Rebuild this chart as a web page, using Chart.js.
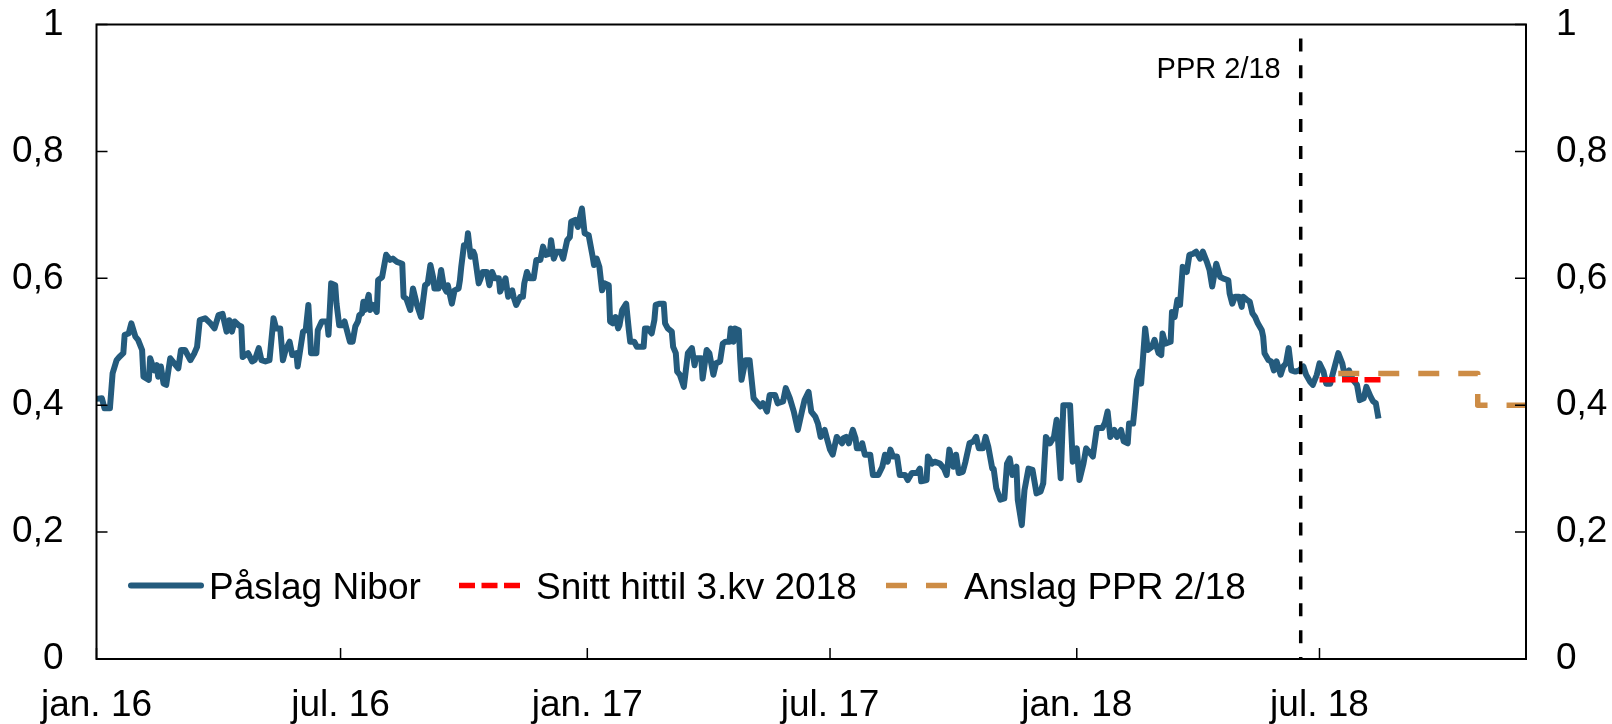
<!DOCTYPE html>
<html>
<head>
<meta charset="utf-8">
<script src="https://cdn.jsdelivr.net/npm/chart.js@4.4.0/dist/chart.umd.min.js"></script>
<style>
  html, body { margin: 0; padding: 0; background: #fff; }
</style>
</head>
<body>
<canvas id="chart" width="1612" height="724"></canvas>
<script>
// x values are days counted from 1 Jan 2016
var xTickDays = [0, 182, 366, 547, 731, 912];
var xTickLabels = ['jan. 16', 'jul. 16', 'jan. 17', 'jul. 17', 'jan. 18', 'jul. 18'];
var yTicks = [0, 0.2, 0.4, 0.6, 0.8, 1];
var yTickLabels = ['0', '0,2', '0,4', '0,6', '0,8', '1'];
var xMin = 0, xMax = 1066;

var seriesNames = ['Påslag Nibor', 'Snitt hittil 3.kv 2018', 'Anslag PPR 2/18'];

var niborDays = [
  0, 4, 6, 10, 12, 15, 17, 20, 21, 24, 26, 29, 31, 34, 35, 39, 40, 43, 45, 46, 48, 50, 52, 55, 58, 61, 63, 66, 70, 73,
  75, 77, 81, 85, 88, 91, 94, 97, 99, 101, 103, 106, 108, 109, 113, 116, 118, 121, 123, 126, 129, 132, 134, 137, 139, 141, 144, 146, 149, 150,
  154, 156, 158, 160, 164, 165, 168, 172, 173, 175, 178, 179, 181, 183, 185, 188, 189, 191, 193, 195, 196, 198, 199, 200, 203, 204, 206, 209, 210, 213,
  216, 219, 221, 224, 228, 229, 231, 234, 236, 239, 242, 245, 247, 249, 251, 252, 255, 257, 259, 261, 262, 265, 267, 270, 271, 272, 274, 276, 277, 279,
  281, 282, 285, 286, 288, 291, 293, 295, 297, 300, 301, 303, 305, 307, 310, 311, 313, 316, 318, 319, 321, 323, 326, 328, 331, 333, 335, 338, 339, 341,
  343, 346, 348, 351, 353, 354, 357, 359, 360, 362, 364, 367, 370, 371, 373, 375, 377, 379, 382, 383, 385, 387, 389, 390, 392, 395, 397, 398, 401, 403,
  408, 409, 411, 414, 416, 417, 420, 423, 424, 426, 429, 430, 432, 433, 435, 438, 441, 444, 446, 447, 451, 452, 455, 457, 460, 462, 465, 467, 469, 472,
  473, 475, 476, 479, 480, 481, 484, 487, 490, 492, 495, 497, 500, 502, 506, 508, 512, 514, 517, 520, 523, 526, 528, 531, 533, 536, 538, 540, 543, 545,
  547, 549, 552, 556, 557, 559, 561, 564, 566, 567, 570, 571, 573, 577, 579, 583, 586, 588, 590, 592, 594, 597, 599, 603, 605, 608, 612, 614, 615, 619,
  620, 623, 625, 629, 632, 634, 636, 639, 641, 643, 646, 648, 651, 654, 656, 658, 661, 663, 665, 668, 669, 671, 674, 677, 679, 681, 683, 686, 687, 690,
  692, 695, 698, 701, 704, 706, 708, 711, 714, 716, 719, 721, 726, 728, 731, 733, 736, 738, 742, 743, 746, 750, 752, 754, 756, 759, 761, 764, 766, 769,
  770, 773, 774, 776, 778, 779, 782, 784, 787, 789, 792, 794, 795, 797, 801, 802, 804, 806, 808, 810, 813, 815, 818, 820, 823, 825, 828, 830, 832, 835,
  838, 840, 844, 845, 847, 849, 852, 854, 855, 858, 860, 862, 864, 866, 869, 870, 871, 874, 876, 878, 880, 883, 885, 887, 889, 891, 894, 897, 900, 902,
  905, 907, 910, 912, 915, 917, 920, 924, 926, 929, 931, 934, 937, 940, 942, 945, 947, 950, 952, 954, 956
];
var niborValues = [
  0.41, 0.411, 0.395, 0.395, 0.45, 0.471, 0.476, 0.482, 0.511, 0.513, 0.529, 0.508, 0.503, 0.487, 0.445, 0.44, 0.474, 0.455, 0.463, 0.445, 0.461, 0.434, 0.432, 0.474, 0.466, 0.458, 0.487, 0.487, 0.471, 0.482,
  0.492, 0.534, 0.537, 0.529, 0.521, 0.542, 0.544, 0.516, 0.534, 0.516, 0.532, 0.526, 0.524, 0.476, 0.482, 0.469, 0.471, 0.49, 0.471, 0.469, 0.471, 0.537, 0.521, 0.521, 0.471, 0.487, 0.5, 0.479, 0.482, 0.461,
  0.516, 0.518, 0.558, 0.482, 0.482, 0.518, 0.532, 0.532, 0.511, 0.592, 0.589, 0.56, 0.526, 0.526, 0.532, 0.508, 0.5, 0.5, 0.524, 0.532, 0.542, 0.545, 0.563, 0.55, 0.574, 0.55, 0.558, 0.547, 0.597, 0.602,
  0.637, 0.629, 0.631, 0.626, 0.623, 0.571, 0.568, 0.55, 0.584, 0.558, 0.539, 0.589, 0.592, 0.621, 0.602, 0.584, 0.584, 0.613, 0.587, 0.579, 0.589, 0.56, 0.581, 0.584, 0.597, 0.618, 0.652, 0.652, 0.671, 0.634,
  0.642, 0.637, 0.592, 0.597, 0.61, 0.61, 0.589, 0.61, 0.6, 0.6, 0.579, 0.589, 0.6, 0.571, 0.581, 0.571, 0.558, 0.571, 0.571, 0.592, 0.61, 0.6, 0.6, 0.629, 0.629, 0.65, 0.637, 0.639, 0.66, 0.631,
  0.642, 0.642, 0.631, 0.66, 0.665, 0.689, 0.692, 0.681, 0.692, 0.71, 0.671, 0.668, 0.634, 0.621, 0.631, 0.618, 0.581, 0.592, 0.589, 0.532, 0.529, 0.539, 0.521, 0.526, 0.55, 0.56, 0.518, 0.5, 0.5, 0.492,
  0.492, 0.521, 0.521, 0.513, 0.534, 0.558, 0.56, 0.56, 0.529, 0.521, 0.516, 0.492, 0.482, 0.453, 0.448, 0.429, 0.482, 0.49, 0.463, 0.474, 0.474, 0.442, 0.487, 0.482, 0.448, 0.466, 0.469, 0.497, 0.5, 0.5,
  0.521, 0.5, 0.521, 0.518, 0.474, 0.44, 0.471, 0.471, 0.411, 0.406, 0.398, 0.403, 0.39, 0.416, 0.416, 0.403, 0.406, 0.427, 0.411, 0.39, 0.361, 0.39, 0.408, 0.421, 0.39, 0.382, 0.371, 0.35, 0.361, 0.345,
  0.33, 0.322, 0.35, 0.34, 0.348, 0.35, 0.34, 0.361, 0.348, 0.332, 0.332, 0.34, 0.322, 0.322, 0.29, 0.29, 0.303, 0.322, 0.311, 0.33, 0.319, 0.319, 0.29, 0.29, 0.282, 0.293, 0.293, 0.3, 0.28, 0.282,
  0.319, 0.308, 0.311, 0.308, 0.3, 0.29, 0.33, 0.303, 0.322, 0.293, 0.295, 0.311, 0.34, 0.343, 0.35, 0.332, 0.332, 0.35, 0.335, 0.3, 0.3, 0.269, 0.251, 0.253, 0.308, 0.316, 0.29, 0.303, 0.251, 0.211,
  0.266, 0.3, 0.298, 0.261, 0.264, 0.277, 0.35, 0.34, 0.35, 0.377, 0.285, 0.4, 0.4, 0.311, 0.332, 0.282, 0.308, 0.332, 0.322, 0.319, 0.364, 0.364, 0.372, 0.39, 0.35, 0.361, 0.35, 0.361, 0.343, 0.34,
  0.371, 0.371, 0.392, 0.44, 0.453, 0.434, 0.521, 0.487, 0.492, 0.503, 0.482, 0.479, 0.513, 0.497, 0.5, 0.547, 0.539, 0.566, 0.558, 0.618, 0.61, 0.637, 0.639, 0.642, 0.631, 0.642, 0.626, 0.613, 0.587, 0.623,
  0.602, 0.6, 0.597, 0.576, 0.56, 0.571, 0.571, 0.555, 0.571, 0.566, 0.563, 0.545, 0.539, 0.529, 0.518, 0.508, 0.482, 0.471, 0.469, 0.455, 0.469, 0.448, 0.461, 0.466, 0.49, 0.455, 0.453, 0.455, 0.461, 0.448,
  0.437, 0.432, 0.448, 0.466, 0.453, 0.434, 0.434, 0.466, 0.482, 0.466, 0.445, 0.455, 0.44, 0.432, 0.408, 0.411, 0.429, 0.414, 0.406, 0.403, 0.379
];

var snittDays = [912, 958];
var snittValues = [0.44, 0.44];

var anslagDays = [926, 1030, 1030, 1066];
var anslagValues = [0.45, 0.45, 0.40, 0.40];

var pprDay = 898;
var pprLabel = 'PPR 2/18';

function toPoints(days, values) {
  return days.map(function (d, i) { return { x: d, y: values[i] }; });
}

var FONT = '"Liberation Sans", Arial, sans-serif';

var legendItems = [
  { x: 131, w: 70, tx: 209 },
  { x: 459, w: 62, tx: 536 },
  { x: 886, w: 64, tx: 964 }
];

var decorations = {
  id: 'decorations',
  afterDatasetsDraw: function (chart) {
    var ctx = chart.ctx, a = chart.chartArea;
    var xs = chart.scales.x, ys = chart.scales.y;
    ctx.save();
    ctx.strokeStyle = '#000';
    ctx.lineWidth = 2;
    ctx.strokeRect(a.left, a.top, a.right - a.left, a.bottom - a.top);
    ctx.lineWidth = 1.5;
    ctx.beginPath();
    yTicks.forEach(function (v) {
      var py = ys.getPixelForValue(v);
      ctx.moveTo(a.left, py); ctx.lineTo(a.left + 11, py);
      ctx.moveTo(a.right, py); ctx.lineTo(a.right - 11, py);
    });
    xTickDays.forEach(function (d) {
      var px = xs.getPixelForValue(d);
      ctx.moveTo(px, a.bottom); ctx.lineTo(px, a.bottom - 11);
    });
    ctx.stroke();

    ctx.fillStyle = '#000';
    ctx.font = '29px ' + FONT;
    ctx.textAlign = 'right';
    ctx.textBaseline = 'middle';
    ctx.fillText(pprLabel, xs.getPixelForValue(pprDay) - 20, ys.getPixelForValue(0.928));

    // legend inside the plot
    var ly = 585.5;
    var sets = [chart.data.datasets[3], chart.data.datasets[2], chart.data.datasets[1]];
    ctx.font = '37px ' + FONT;
    ctx.textAlign = 'left';
    ctx.textBaseline = 'alphabetic';
    legendItems.forEach(function (it, i) {
      var ds = sets[i];
      ctx.save();
      ctx.strokeStyle = ds.borderColor;
      ctx.lineWidth = ds.borderWidth;
      ctx.lineCap = i === 0 ? 'round' : 'butt';
      ctx.setLineDash(ds.borderDash || []);
      ctx.beginPath();
      ctx.moveTo(it.x, ly);
      ctx.lineTo(it.x + it.w, ly);
      ctx.stroke();
      ctx.restore();
      ctx.fillText(seriesNames[i], it.tx, 599);
    });
    ctx.restore();
  }
};

function noPad(s) {
  s.paddingTop = 0; s.paddingBottom = 0; s.paddingLeft = 0; s.paddingRight = 0;
}

function yAxis(pos, width, pad) {
  return {
    type: 'linear',
    position: pos,
    min: 0,
    max: 1,
    afterBuildTicks: function (s) { s.ticks = yTicks.map(function (v) { return { value: v }; }); },
    afterFit: function (s) { s.width = width; noPad(s); },
    ticks: {
      callback: function (v, i) { return yTickLabels[i]; },
      font: { size: 37, family: FONT },
      color: '#000',
      padding: pad
    },
    grid: { display: false, drawTicks: false },
    border: { display: false }
  };
}

new Chart(document.getElementById('chart'), {
  type: 'line',
  data: {
    datasets: [
      { label: 'PPR', data: toPoints([pprDay, pprDay], [1, 0]), borderColor: '#000', borderWidth: 3.5,
        borderDash: [13, 13.9], borderDashOffset: 13, order: 0 },
      { label: seriesNames[2], data: toPoints(anslagDays, anslagValues), borderColor: '#cd8c45', borderWidth: 5.5,
        borderDash: [21, 19], order: 1 },
      { label: seriesNames[1], data: toPoints(snittDays, snittValues), borderColor: '#ff0000', borderWidth: 5.5,
        borderDash: [16, 6.5], order: 2 },
      { label: seriesNames[0], data: toPoints(niborDays, niborValues), borderColor: '#245b7d', borderWidth: 6,
        order: 3 }
    ]
  },
  options: {
    responsive: false,
    animation: false,
    elements: {
      point: { radius: 0 },
      line: { tension: 0, borderJoinStyle: 'round', borderCapStyle: 'butt', fill: false }
    },
    layout: { padding: { top: 24.5, left: 0, right: 0, bottom: 0 } },
    plugins: { legend: { display: false }, tooltip: { enabled: false } },
    scales: {
      x: {
        type: 'linear',
        min: xMin,
        max: xMax,
        afterBuildTicks: function (s) { s.ticks = xTickDays.map(function (v) { return { value: v }; }); },
        afterFit: function (s) { s.height = 65; noPad(s); },
        ticks: {
          callback: function (v, i) { return xTickLabels[i]; },
          font: { size: 37, family: FONT },
          color: '#000',
          padding: 25,
          maxRotation: 0,
          autoSkip: false
        },
        grid: { display: false, drawTicks: false },
        border: { display: false }
      },
      y: yAxis('left', 96.5, 33),
      y2: yAxis('right', 86, 30)
    }
  },
  plugins: [decorations]
});
</script>
</body>
</html>
